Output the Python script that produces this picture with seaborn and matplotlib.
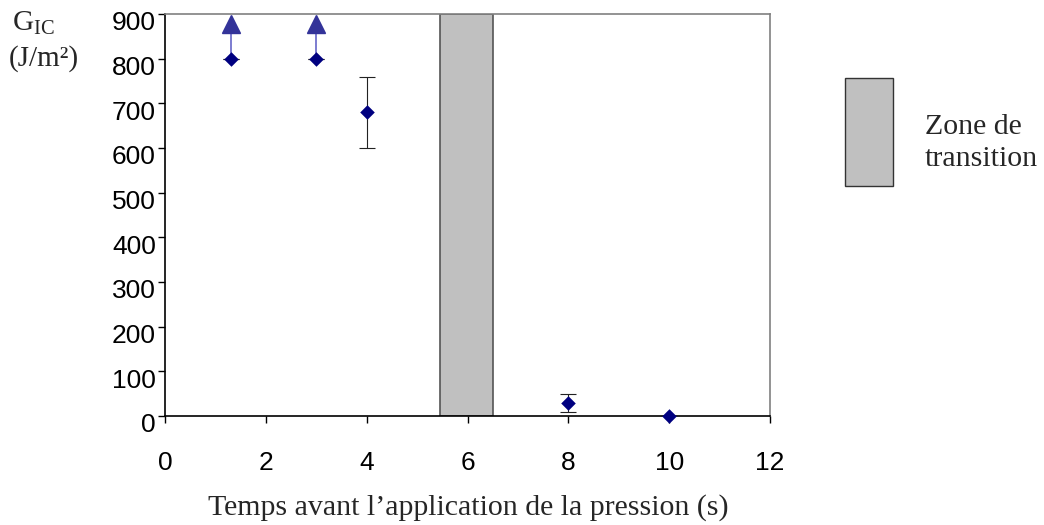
import numpy as np
import pandas as pd
import matplotlib
matplotlib.use("Agg")
import matplotlib.pyplot as plt
import matplotlib.patches as mpatches
import matplotlib.transforms as mtransforms
import seaborn as sns

# data
temps = [1.3, 3.0, 4.0, 8.0, 10.0]
gic = [800, 800, 680, 30, 0]
err_low = [0, 0, 80, 20, 0]
err_high = [0, 0, 80, 20, 0]
# points that are lower bounds (arrow up)
arrow_x = [1.3, 3.0]
arrow_from = [800, 800]
arrow_to = [877, 877]
# transition zone
zone_start, zone_end = 5.45, 6.5

sns.set_theme(style="white")
serif = ["Liberation Serif", "DejaVu Serif"]
sans = ["Liberation Sans", "DejaVu Sans"]
plt.rcParams["font.family"] = sans

fig = plt.figure(figsize=(10.44, 5.25), dpi=100)
ax = fig.add_axes([165 / 1044, 1 - 416 / 525, 605 / 1044, 402 / 525])

ax.bar([(zone_start + zone_end) / 2], [900], width=zone_end - zone_start,
       color="#C0C0C0", edgecolor="#555555", linewidth=1.2, zorder=1)

# lower-bound arrows
for x, y0, y1 in zip(arrow_x, arrow_from, arrow_to):
    ax.plot([x, x], [y0, y1], color="#6666C8", linewidth=1.2, zorder=2)
ax.plot(arrow_x, arrow_to, linestyle="none", marker="^", markersize=13,
        color="#333399", zorder=3, clip_on=False)

df = pd.DataFrame({"temps": temps, "gic": gic})
ax.errorbar(temps, gic, yerr=[err_low, err_high], fmt="none", ecolor="#222222",
            elinewidth=0.8, capsize=5.5, capthick=0.8, zorder=3)
sns.scatterplot(data=df, x="temps", y="gic", marker="D", s=55, color="#000080",
                edgecolor="#000080", linewidth=0, ax=ax, zorder=4, clip_on=False)

ax.set_xlim(0, 12)
ax.set_ylim(0, 900)
ax.set_xticks(np.arange(0, 13, 2))
ax.set_yticks(np.arange(0, 901, 100))
ax.tick_params(axis="both", direction="out", length=5, width=1, labelsize=19,
               colors="black", left=True, bottom=True)
ax.tick_params(axis="x", pad=20)
ax.tick_params(axis="y", pad=1.5)
ax.set_xlabel("")
ax.set_ylabel("")
# y tick labels sit slightly below their ticks
offset = mtransforms.ScaledTranslation(0, -5 / 72, fig.dpi_scale_trans)
for lab in ax.get_yticklabels():
    lab.set_transform(lab.get_transform() + offset)
for side in ["left", "bottom"]:
    ax.spines[side].set_color("black")
    ax.spines[side].set_linewidth(1.2)
for side in ["top", "right"]:
    ax.spines[side].set_color("#808080")
    ax.spines[side].set_linewidth(1.2)

fig.text(468 / 1044, 1 - 508 / 525, "Temps avant l\u2019application de la pression (s)",
         ha="center", va="center", fontsize=21.5, family=serif)
fig.text(12 / 1044, 1 - 23 / 525, r"G$_{\mathregular{IC}}$", ha="left", va="center",
         fontsize=21, family=serif)
fig.text(9 / 1044, 1 - 59 / 525, "(J/m\u00b2)", ha="left", va="center",
         fontsize=21, family=serif)

# legend for the transition zone
leg_rect = mpatches.Rectangle((845 / 1044, 1 - 186 / 525), 48 / 1044, 108 / 525,
                              transform=fig.transFigure, facecolor="#C0C0C0",
                              edgecolor="#333333", linewidth=1)
fig.patches.append(leg_rect)
fig.text(925 / 1044, 1 - 143 / 525, "Zone de\ntransition", ha="left", va="center",
         fontsize=21.5, family=serif, linespacing=1.35)

plt.savefig("out.png", dpi=100)
plt.close()
